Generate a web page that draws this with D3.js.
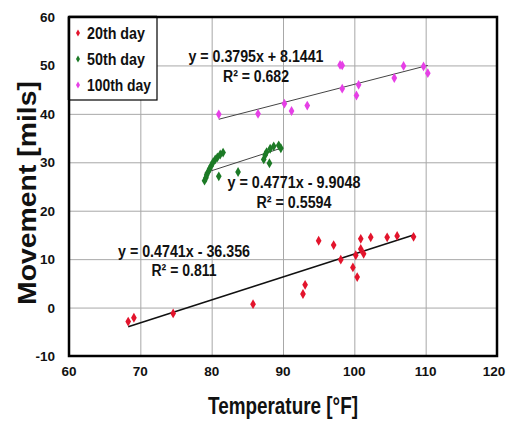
<!DOCTYPE html>
<html>
<head>
<meta charset="utf-8">
<script src="https://cdn.jsdelivr.net/npm/d3@7"></script>
<style>
  html, body { margin: 0; padding: 0; background: #fff; }
  svg { display: block; }
  text { font-family: Arial, "Liberation Sans", Helvetica, sans-serif; font-weight: bold; fill: #111; }
</style>
</head>
<body>
<svg id="chart" width="507" height="423"></svg>
<script>
// ---- data ----
const seriesNames = ["20th day", "50th day", "100th day"];

const day20T = [68.3, 69.1, 74.6, 85.8, 92.8, 93.1, 95.0, 97.1, 98.1, 99.8, 100.4, 100.2, 100.9, 100.9, 101.3, 102.3, 104.6, 106.0, 108.3];
const day20M = [-2.9, -2.1, -1.2, 0.7, 2.8, 4.7, 13.8, 12.9, 9.9, 8.3, 6.3, 10.8, 14.2, 12.1, 11.1, 14.5, 14.5, 14.8, 14.6];

const day50T = [79.0, 79.2, 79.3, 79.5, 79.7, 79.9, 80.2, 80.5, 80.8, 81.2, 81.6, 81.0, 83.7, 87.3, 87.5, 87.7, 88.1, 88.2, 88.7, 89.4, 89.7];
const day50M = [26.2, 26.8, 27.4, 28.0, 28.6, 29.2, 30.0, 30.6, 31.0, 31.6, 32.0, 27.1, 28.0, 30.6, 31.5, 32.1, 29.8, 32.8, 33.3, 33.5, 32.9];

const day100T = [81.0, 86.5, 90.2, 91.2, 93.4, 98.0, 98.3, 98.3, 100.3, 100.6, 105.6, 106.9, 109.7, 110.3];
const day100M = [39.9, 40.0, 42.1, 40.6, 41.7, 50.1, 50.0, 45.2, 43.8, 46.0, 47.4, 49.9, 49.8, 48.4];

// trendline equations shown on the chart: [slope, intercept, R²]
const trendSlope = [0.4741, 0.4771, 0.3795];
const trendIntercept = [-36.356, -9.9048, 8.1441];
const trendR2 = ["0.811", "0.5594", "0.682"];
const eqLabels = ["y = 0.4741x - 36.356", "y = 0.4771x - 9.9048", "y = 0.3795x + 8.1441"];

const xTicks = [60, 70, 80, 90, 100, 110, 120];
const yTicks = [-10, 0, 10, 20, 30, 40, 50, 60];

// ---- layout ----
const W = 507, H = 423;
const m = { left: 69, right: 10, top: 17, bottom: 67 };
const svg = d3.select("#chart");
const x = d3.scaleLinear().domain([60, 120]).range([m.left, W - m.right]);
const y = d3.scaleLinear().domain([-10, 60]).range([H - m.bottom, m.top]);

const colors = ["#e3142c", "#1c7a26", "#e640e6"];
const seriesT = [day20T, day50T, day100T];
const seriesM = [day20M, day50M, day100M];

// gridlines
svg.append("g")
  .attr("transform", `translate(0,${H - m.bottom})`)
  .call(d3.axisBottom(x).tickValues(xTicks).tickSize(-(H - m.top - m.bottom)).tickFormat(""))
  .call(g => g.select(".domain").remove())
  .call(g => g.selectAll("line").attr("stroke", "#a8a8a8").attr("stroke-width", 1));
svg.append("g")
  .attr("transform", `translate(${m.left},0)`)
  .call(d3.axisLeft(y).tickValues(yTicks).tickSize(-(W - m.left - m.right)).tickFormat(""))
  .call(g => g.select(".domain").remove())
  .call(g => g.selectAll("line").attr("stroke", "#a8a8a8").attr("stroke-width", 1));

// tick labels
svg.append("g").selectAll("text").data(yTicks).join("text")
  .attr("x", 55).attr("y", d => y(d) + 5)
  .attr("text-anchor", "end").style("font-size", "13.5px")
  .text(d => d);
svg.append("g").selectAll("text").data(xTicks).join("text")
  .attr("x", d => Math.min(x(d), W - 13)).attr("y", 376)
  .attr("text-anchor", "middle").style("font-size", "13.5px")
  .text(d => d);

// trend lines
const trendG = svg.append("g");
seriesT.forEach((T, i) => {
  const [lo, hi] = d3.extent(T);
  trendG.append("line")
    .attr("x1", x(lo)).attr("y1", y(trendSlope[i] * lo + trendIntercept[i]))
    .attr("x2", x(hi)).attr("y2", y(trendSlope[i] * hi + trendIntercept[i]))
    .attr("stroke", i === 0 ? "#111" : "#444")
    .attr("stroke-width", i === 0 ? 1.6 : 1);
});

// points
const diamond = d3.symbol().type(d3.symbolDiamond).size(28);
seriesT.forEach((T, i) => {
  svg.append("g").selectAll("path").data(T.map((t, j) => [t, seriesM[i][j]])).join("path")
    .attr("d", diamond)
    .attr("transform", d => `translate(${x(d[0])},${y(d[1])})`)
    .attr("fill", colors[i]);
});

// equation labels [centerX, baselineY eq, baselineY R², width eq, width R²]
const eqPos = [
  [184, 257, 276, 132, 65],
  [294, 188, 208, 133, 75],
  [256, 62, 82, 135, 66]
];
eqLabels.forEach((lab, i) => {
  const p = eqPos[i];
  svg.append("text").attr("x", p[0]).attr("y", p[1]).attr("text-anchor", "middle")
    .style("font-size", "16px").attr("textLength", p[3]).attr("lengthAdjust", "spacingAndGlyphs")
    .text(lab);
  svg.append("text").attr("x", p[0]).attr("y", p[2]).attr("text-anchor", "middle")
    .style("font-size", "16px").attr("textLength", p[4]).attr("lengthAdjust", "spacingAndGlyphs")
    .text("R² = " + trendR2[i]);
});

// plot border
svg.append("rect")
  .attr("x", m.left).attr("y", m.top)
  .attr("width", W - m.left - m.right).attr("height", H - m.top - m.bottom)
  .attr("fill", "none").attr("stroke", "#000").attr("stroke-width", 2.5);

// legend
const lg = svg.append("g");
lg.append("rect").attr("x", m.left).attr("y", m.top).attr("width", 88).attr("height", 83)
  .attr("fill", "#fff").attr("stroke", "#000").attr("stroke-width", 1.2);
lg.append("line").attr("x1", m.left).attr("x2", m.left).attr("y1", m.top).attr("y2", m.top + 83)
  .attr("stroke", "#000").attr("stroke-width", 2.5);
lg.append("line").attr("x1", m.left).attr("x2", m.left + 88).attr("y1", m.top).attr("y2", m.top)
  .attr("stroke", "#000").attr("stroke-width", 2.5);
const legendW = [58, 58, 64];
seriesNames.forEach((name, i) => {
  const cy = 33 + i * 26;
  lg.append("path").attr("d", d3.symbol().type(d3.symbolDiamond).size(14))
    .attr("transform", `translate(78,${cy})`).attr("fill", colors[i]);
  lg.append("text").attr("x", 87).attr("y", cy + 5.5)
    .style("font-size", "16px").attr("textLength", legendW[i]).attr("lengthAdjust", "spacingAndGlyphs")
    .text(name);
});

// axis titles
svg.append("text").attr("x", 283).attr("y", 414).attr("text-anchor", "middle")
  .style("font-size", "24px").attr("textLength", 150).attr("lengthAdjust", "spacingAndGlyphs")
  .text("Temperature [°F]");
svg.append("text").attr("transform", "translate(36,193) rotate(-90)").attr("text-anchor", "middle")
  .style("font-size", "25px").attr("textLength", 224).attr("lengthAdjust", "spacingAndGlyphs")
  .text("Movement [mils]");
</script>
</body>
</html>
